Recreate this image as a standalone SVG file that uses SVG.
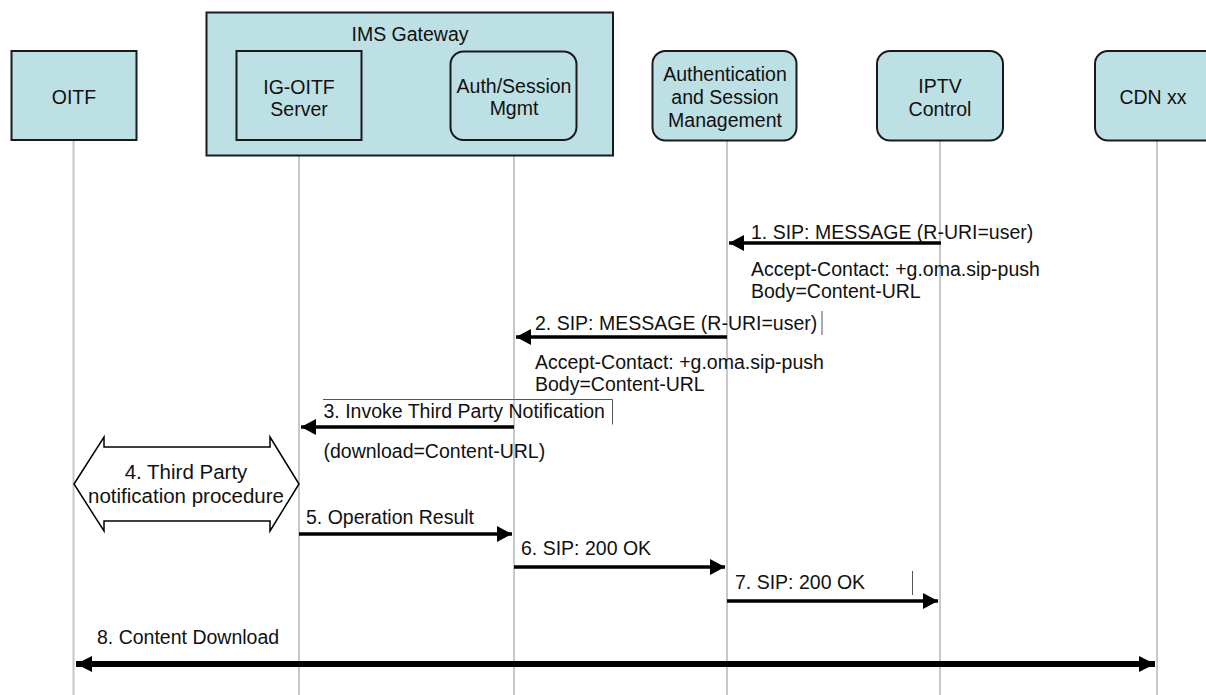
<svg xmlns="http://www.w3.org/2000/svg" width="1206" height="695" viewBox="0 0 1206 695">
<style>
text{font-family:"Liberation Sans",Arial,sans-serif;font-size:19.5px;fill:#111}
.c{text-anchor:middle}
.box{fill:#bde0e4;stroke:#1a1a1a;stroke-width:2}
.life{stroke:#c8c8c8;stroke-width:2;fill:none}
.msg{stroke:#000;stroke-width:3.5;fill:none}
.thin{stroke:#555;stroke-width:1;fill:none}
.big{font-size:20.5px}
</style>
<defs>
<marker id="ah" markerUnits="userSpaceOnUse" markerWidth="16" markerHeight="16" refX="15" refY="8" orient="auto" viewBox="0 0 16 16">
<path d="M0,0 L15,8 L0,16 z" fill="#000"/>
</marker>
<marker id="ah8" markerUnits="userSpaceOnUse" markerWidth="17" markerHeight="17" refX="16" refY="8" orient="auto-start-reverse" viewBox="0 0 17 17">
<path d="M0,0 L16,8 L0,16 z" fill="#000"/>
</marker>
</defs>

<g id="lifelines">
<line class="life" x1="73.5" y1="140" x2="73.5" y2="695"/>
<line class="life" x1="299" y1="140" x2="299" y2="695"/>
<line class="life" x1="514" y1="140" x2="514" y2="695"/>
<line class="life" x1="727" y1="140" x2="727" y2="695"/>
<line class="life" x1="940" y1="140" x2="940" y2="695"/>
<line class="life" x1="1157" y1="140" x2="1157" y2="695"/>
</g>

<g id="oitf">
<rect class="box" x="11.5" y="51" width="125" height="89"/>
<text class="c" x="74" y="103.5">OITF</text>
</g>

<g id="ims-gateway">
<rect class="box" x="206.5" y="12.5" width="406.5" height="143"/>
<text class="c" x="410" y="40.5">IMS Gateway</text>
</g>

<g id="ig-oitf-server">
<rect class="box" x="236.5" y="51" width="125" height="89"/>
<text class="c" x="299" y="93.5">IG-OITF</text>
<text class="c" x="299" y="115.5">Server</text>
</g>

<g id="auth-session-mgmt">
<rect class="box" x="450.5" y="51.5" width="126" height="88.5" rx="13" ry="13"/>
<text class="c" x="514" y="93">Auth/Session</text>
<text class="c" x="514" y="115">Mgmt</text>
</g>

<g id="authentication-session-management">
<rect class="box" x="652.5" y="51" width="144" height="89.5" rx="13" ry="13"/>
<text class="c" x="725" y="81">Authentication</text>
<text class="c" x="725" y="104">and Session</text>
<text class="c" x="725" y="127">Management</text>
</g>

<g id="iptv-control">
<rect class="box" x="877" y="51" width="126" height="89.5" rx="13" ry="13"/>
<text class="c" x="940" y="93">IPTV</text>
<text class="c" x="940" y="116">Control</text>
</g>

<g id="cdn-xx">
<rect class="box" x="1095" y="51" width="126" height="89.5" rx="13" ry="13"/>
<text class="c" x="1153" y="103.5">CDN xx</text>
</g>

<g id="procedure-4">
<path d="M74,484 L104,437 L104,447 L270,447 L270,437 L299,484 L270,531 L270,521 L104,521 L104,531 Z" fill="#fff" stroke="#000" stroke-width="1.5"/>
<text class="c big" x="186" y="479">4. Third Party</text>
<text class="c big" x="186" y="503">notification procedure</text>
</g>

<g id="connectors">
<line class="msg" x1="941" y1="243" x2="729" y2="243" marker-end="url(#ah)"/>
<line class="msg" x1="727" y1="337" x2="516" y2="337" marker-end="url(#ah)"/>
<line class="msg" x1="514" y1="427" x2="301" y2="427" marker-end="url(#ah)"/>
<line class="msg" x1="299" y1="534" x2="512" y2="534" marker-end="url(#ah)"/>
<line class="msg" x1="514" y1="567" x2="725" y2="567" marker-end="url(#ah)"/>
<line class="msg" x1="727" y1="601" x2="938" y2="601" marker-end="url(#ah)"/>
<line x1="76" y1="664" x2="1155" y2="664" stroke="#000" stroke-width="6" marker-start="url(#ah8)" marker-end="url(#ah8)"/>
<line class="thin" x1="822" y1="311" x2="822" y2="335"/>
<path class="thin" d="M323,399.5 L612.5,399.5 L612.5,424.5"/>
<line class="thin" x1="912.5" y1="571" x2="912.5" y2="595"/>
</g>

<g id="labels">
<text x="751" y="239">1. SIP: MESSAGE (R-URI=user)</text>
<text x="751" y="276">Accept-Contact: +g.oma.sip-push</text>
<text x="751" y="298">Body=Content-URL</text>
<text x="535" y="330">2. SIP: MESSAGE (R-URI=user)</text>
<text x="535" y="369">Accept-Contact: +g.oma.sip-push</text>
<text x="535" y="391">Body=Content-URL</text>
<text x="323.5" y="418">3. Invoke Third Party Notification</text>
<text x="323.5" y="458">(download=Content-URL)</text>
<text x="306" y="524">5. Operation Result</text>
<text x="521" y="555">6. SIP: 200 OK</text>
<text x="735" y="589">7. SIP: 200 OK</text>
<text x="97" y="644">8. Content Download</text>
</g>
</svg>
